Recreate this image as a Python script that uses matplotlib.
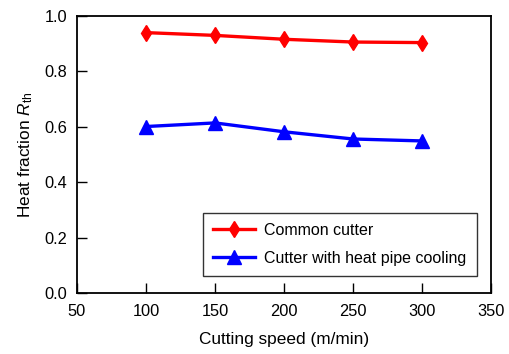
import matplotlib
matplotlib.use("Agg")
import matplotlib.pyplot as plt

speed = [100, 150, 200, 250, 300]
common = [0.940, 0.930, 0.916, 0.906, 0.904]
heatpipe = [0.601, 0.614, 0.582, 0.556, 0.549]
xticks = [50, 100, 150, 200, 250, 300, 350]
yticks = [0.0, 0.2, 0.4, 0.6, 0.8, 1.0]

plt.rcParams['font.family'] = ['Liberation Sans', 'DejaVu Sans']
plt.rcParams['mathtext.fontset'] = 'custom'
plt.rcParams['mathtext.rm'] = 'Liberation Sans'
plt.rcParams['mathtext.it'] = 'Liberation Sans:italic'
fig = plt.figure(figsize=(5.09, 3.54), dpi=100)
ax = fig.add_axes([77/509, 1-293/354, (491-77)/509, (293-16)/354])

ax.plot(speed, common, color='#ff0000', lw=2.4, marker='d', ms=8, label='Common cutter')
ax.plot(speed, heatpipe, color='#0000ff', lw=2.4, marker='^', ms=9.5, label='Cutter with heat pipe cooling')

ax.set_xlim(50, 350)
ax.set_ylim(0, 1.0)
ax.set_xticks(xticks)
ax.set_yticks(yticks)
ax.set_yticklabels([f"{v:.1f}" for v in yticks])
ax.tick_params(direction='in', length=7, width=1, labelsize=11.8)
ax.tick_params(axis='x', pad=8)
ax.tick_params(axis='y', pad=7)
for s in ax.spines.values():
    s.set_linewidth(1.3)
ax.set_xlabel('Cutting speed (m/min)', fontsize=12.4, labelpad=9)
ax.set_ylabel(r'Heat fraction $R_{\mathrm{th}}$', fontsize=12.4, labelpad=7)

leg = ax.legend(loc='lower right', bbox_to_anchor=(0.966, 0.061), fontsize=11.5,
                frameon=True, fancybox=False, edgecolor='black', handlelength=2.6,
                borderpad=0.65, labelspacing=0.8, handletextpad=0.6, borderaxespad=0)
leg.get_frame().set_linewidth(1.0)

fig.savefig('out.png', dpi=100)
